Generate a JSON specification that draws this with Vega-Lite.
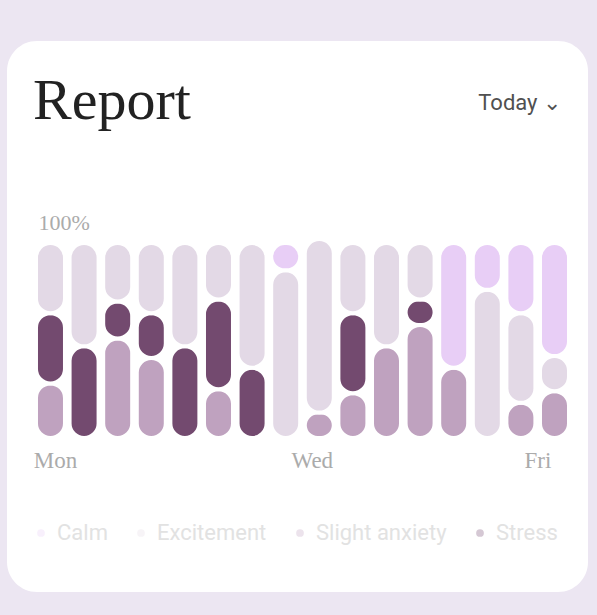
{
  "$schema": "https://vega.github.io/schema/vega-lite/v6.json",
  "width": 581,
  "height": 551,
  "autosize": "none",
  "padding": {"left": 7, "top": 41, "right": 9, "bottom": 23},
  "background": "#ece6f2",
  "view": {"fill": "#ffffff", "stroke": null, "cornerRadius": 30},
  "title": {
    "text": "Report", "anchor": "start", "frame": "group", "orient": "top",
    "offset": 0, "dx": 26, "dy": 136, "baseline": "alphabetic",
    "font": "Liberation Serif", "fontSize": 58, "fontWeight": "normal", "color": "#222222"
  },
  "data": {"values": [
    {"day": 1, "mood": "Slight anxiety", "v": 28}, {"day": 1, "mood": "Stress", "v": 36}, {"day": 1, "mood": "Excitement", "v": 36},
    {"day": 2, "mood": "Stress", "v": 47}, {"day": 2, "mood": "Excitement", "v": 53},
    {"day": 3, "mood": "Slight anxiety", "v": 51}, {"day": 3, "mood": "Stress", "v": 19}, {"day": 3, "mood": "Excitement", "v": 30},
    {"day": 4, "mood": "Slight anxiety", "v": 41}, {"day": 4, "mood": "Stress", "v": 23}, {"day": 4, "mood": "Excitement", "v": 36},
    {"day": 5, "mood": "Stress", "v": 47}, {"day": 5, "mood": "Excitement", "v": 53},
    {"day": 6, "mood": "Slight anxiety", "v": 25}, {"day": 6, "mood": "Stress", "v": 46}, {"day": 6, "mood": "Excitement", "v": 29},
    {"day": 7, "mood": "Stress", "v": 36}, {"day": 7, "mood": "Excitement", "v": 64},
    {"day": 8, "mood": "Excitement", "v": 86}, {"day": 8, "mood": "Calm", "v": 14},
    {"day": 9, "mood": "Slight anxiety", "v": 13}, {"day": 9, "mood": "Excitement", "v": 89},
    {"day": 10, "mood": "Slight anxiety", "v": 23}, {"day": 10, "mood": "Stress", "v": 41}, {"day": 10, "mood": "Excitement", "v": 36},
    {"day": 11, "mood": "Slight anxiety", "v": 47}, {"day": 11, "mood": "Excitement", "v": 53},
    {"day": 12, "mood": "Slight anxiety", "v": 58}, {"day": 12, "mood": "Stress", "v": 13}, {"day": 12, "mood": "Excitement", "v": 29},
    {"day": 13, "mood": "Slight anxiety", "v": 36}, {"day": 13, "mood": "Calm", "v": 64},
    {"day": 14, "mood": "Excitement", "v": 76}, {"day": 14, "mood": "Calm", "v": 24},
    {"day": 15, "mood": "Slight anxiety", "v": 18}, {"day": 15, "mood": "Excitement", "v": 46}, {"day": 15, "mood": "Calm", "v": 36},
    {"day": 16, "mood": "Slight anxiety", "v": 24}, {"day": 16, "mood": "Excitement", "v": 18}, {"day": 16, "mood": "Calm", "v": 58}
  ]},
  "layer": [
    {
      "transform": [
        {"calculate": "indexof(['Slight anxiety','Stress','Excitement','Calm'], datum.mood)", "as": "rank"},
        {"stack": "v", "groupby": ["day"], "sort": [{"field": "rank", "order": "ascending"}], "as": ["lo", "hi"]}
      ],
      "mark": {"type": "bar", "cornerRadius": 14.5, "stroke": "#ffffff", "strokeWidth": 4},
      "encoding": {
        "x": {
          "field": "day", "type": "ordinal",
          "scale": {"paddingInner": 0.137, "paddingOuter": 0.714, "align": 0.604},
          "axis": {
            "orient": "bottom", "domain": false, "ticks": false, "grid": false, "title": null,
            "labelAngle": 0, "labelOverlap": false,
            "labelExpr": "datum.value == 1 ? 'Mon' : datum.value == 9 ? 'Wed' : datum.value == 15 ? 'Fri' : ''",
            "labelFont": "Liberation Serif", "labelFontSize": 23, "labelColor": "#ababab",
            "labelBaseline": "alphabetic", "labelPadding": -125,
            "labelOffset": {"condition": [{"test": "datum.value == 1", "value": 5}, {"test": "datum.value == 15", "value": 17}], "value": -7}
          }
        },
        "y": {
          "field": "lo", "type": "quantitative",
          "scale": {"domain": [-79, 203.6], "nice": false, "zero": false},
          "axis": {
            "orient": "left", "values": [100], "labelExpr": "'100%'",
            "domain": false, "ticks": false, "grid": false, "title": null,
            "labelAlign": "left", "labelPadding": -31, "labelOffset": -20, "labelBaseline": "middle",
            "labelFont": "Liberation Serif", "labelFontSize": 22, "labelColor": "#ababab"
          }
        },
        "y2": {"field": "hi"},
        "color": {
          "field": "mood", "type": "nominal",
          "scale": {"domain": ["Calm", "Excitement", "Slight anxiety", "Stress"], "range": ["#e8cef6", "#e3d9e6", "#bfa2bf", "#734a6f"]},
          "legend": {
            "orient": "none", "legendX": 23, "legendY": 481, "direction": "horizontal", "title": null,
            "symbolType": "circle", "symbolSize": 60, "symbolOpacity": 0.3, "symbolStrokeWidth": 0,
            "labelFont": "Roboto", "labelFontSize": 22, "labelColor": "#e2e2e2",
            "columnPadding": 22, "labelOffset": 5
          }
        }
      }
    },
    {
      "data": {"values": [{"label": "Today ⌄"}]},
      "mark": {"type": "text", "align": "right", "baseline": "middle", "font": "Roboto", "fontSize": 22, "color": "#505050", "dx": -8},
      "encoding": {
        "x": {"datum": 16, "type": "ordinal", "bandPosition": 1},
        "y": {"datum": 172, "type": "quantitative"},
        "text": {"field": "label"}
      }
    }
  ]
}
